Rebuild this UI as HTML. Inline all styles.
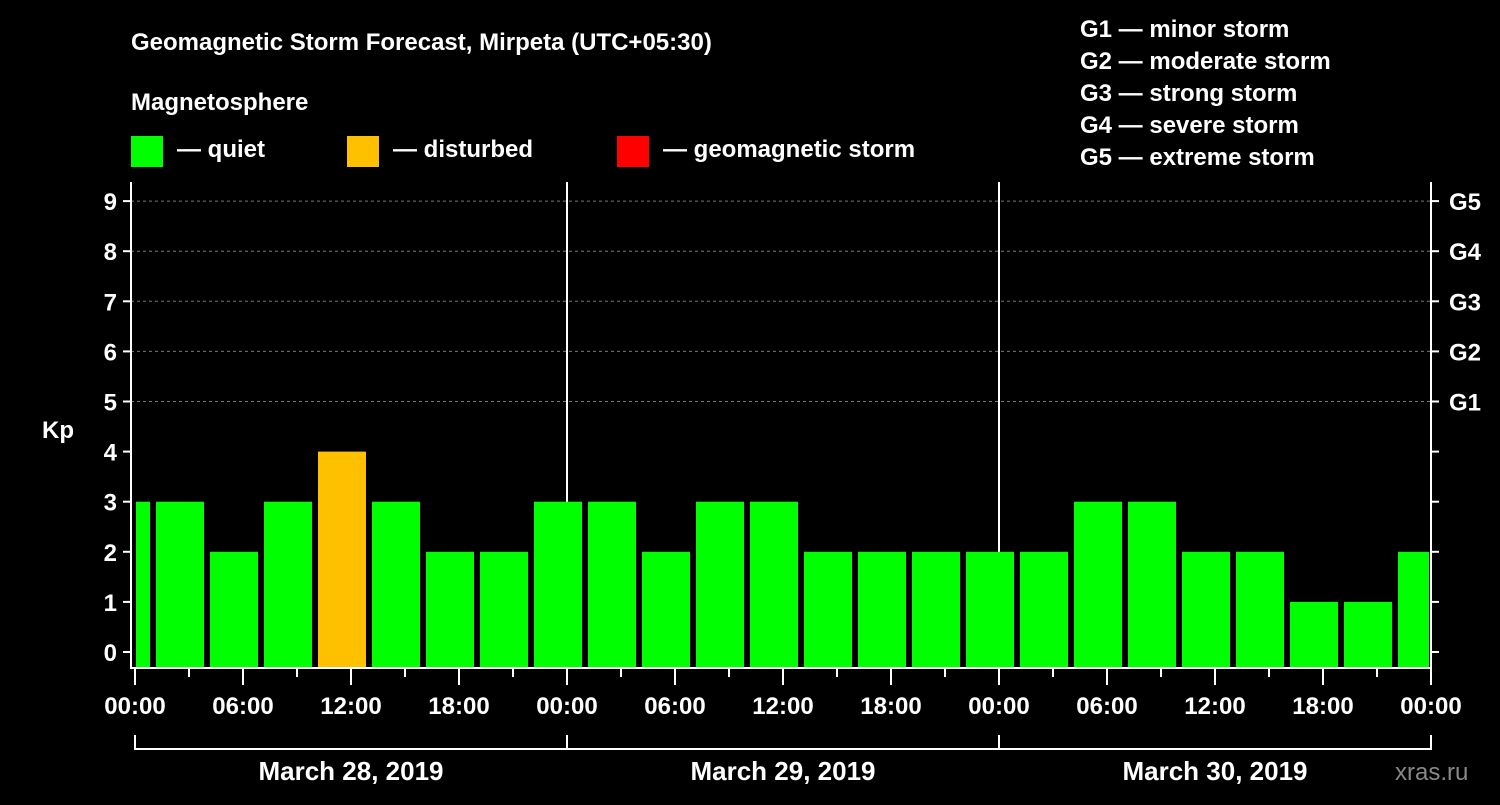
<!DOCTYPE html>
<html><head><meta charset="utf-8">
<style>
body{margin:0;background:#000;width:1500px;height:800px;overflow:hidden}
svg text{font-family:"Liberation Sans",Arial,sans-serif;font-weight:bold;fill:#fff}
</style></head>
<body>
<svg id="chart" width="1500" height="800" xmlns="http://www.w3.org/2000/svg">
<rect width="1500" height="800" fill="#000"/>
<text x="131" y="50" font-size="24">Geomagnetic Storm Forecast, Mirpeta (UTC+05:30)</text>
<text x="131" y="110" font-size="24">Magnetosphere</text>
<g><rect x="131" y="136" width="32" height="31" fill="#00ff00"/><text x="177" y="157" font-size="24">— quiet</text></g>
<g><rect x="347" y="136" width="32" height="31" fill="#ffc000"/><text x="393" y="157" font-size="24">— disturbed</text></g>
<g><rect x="617" y="136" width="32" height="31" fill="#ff0000"/><text x="663" y="157" font-size="24">— geomagnetic storm</text></g>
<g font-size="24">
<text x="1080" y="37">G1 — minor storm</text>
<text x="1080" y="69">G2 — moderate storm</text>
<text x="1080" y="101">G3 — strong storm</text>
<text x="1080" y="133">G4 — severe storm</text>
<text x="1080" y="165">G5 — extreme storm</text>
</g>
<text x="42" y="438" font-size="24">Kp</text>
<text x="1395" y="780" font-size="24" fill="#888" style="fill:#888;font-weight:normal">xras.ru</text>
<g id="grid"></g><g id="bars"></g><g id="axes"></g>
</svg>
<script>
const kpValues=[3,3,2,3,4,3,2,2,3,3,2,3,3,2,2,2,2,2,3,3,2,2,1,1,2];
const yTicks=[0,1,2,3,4,5,6,7,8,9];
const gLabels=["G1","G2","G3","G4","G5"];
const hourLabels=["00:00","06:00","12:00","18:00"];
const dayLabels=["March 28, 2019","March 29, 2019","March 30, 2019"];
const NS="http://www.w3.org/2000/svg";
const X0=135,DAY=432,PL=131,PR=1431,PT=182,PB=668;
const x=h=>X0+h*DAY/24;
const y=v=>652-v*50.1;
function mk(t,a,p){const e=document.createElementNS(NS,t);for(const k in a)e.setAttribute(k,a[k]);p.appendChild(e);return e;}
const grid=document.getElementById('grid'),bars=document.getElementById('bars'),axes=document.getElementById('axes');
yTicks.forEach(v=>{
 if(v>=5){const l=mk('line',{x1:PL,x2:PR,y1:y(v),y2:y(v),stroke:'#777','stroke-dasharray':'3,3','stroke-width':1},grid);
 
 }
 const t=mk('line',{x1:PL-8,x2:PL,y1:y(v),y2:y(v),stroke:'#fff','stroke-width':2},axes);
 
 
 const tr=mk('line',{x1:PR,x2:PR+8,y1:y(v),y2:y(v),stroke:'#fff','stroke-width':2},axes);
 
 
 const lb=mk('text',{x:PL-14,y:y(v)+9,'font-size':24,'text-anchor':'end'},axes);lb.textContent=v;
 
 
});
gLabels.forEach((g,i)=>{const lb=mk('text',{x:1449,y:y(5+i)+9,'font-size':24},axes);lb.textContent=g;
 
 });
kpValues.forEach((v,i)=>{
 let l=x(i*3-2)+3,r=l+48;l=Math.max(l,X0+1);r=Math.min(r,PR-2);
 const col=v>=5?'#ff0000':v>=4?'#ffc000':'#00ff00';
 const b=mk('rect',{x:l,y:y(v),width:r-l,height:PB-y(v),fill:col},bars);
 
 
});
[1,2].forEach(d=>{const l=mk('line',{x1:x(24*d),x2:x(24*d),y1:PT,y2:PB,stroke:'#fff','stroke-width':2},grid);
 
 });
const fr=mk('path',{d:`M${PL} ${PT}V${PB}H${PR}V${PT}`,stroke:'#fff','stroke-width':2,fill:'none'},axes);


for(let h=0;h<=72;h+=3){
 const t=mk('line',{x1:x(h),x2:x(h),y1:PB,y2:PB+(h%6==0?17:9),stroke:'#fff','stroke-width':2},axes);
 
 
 if(h%6==0){const lb=mk('text',{x:x(h),y:714,'font-size':24,'text-anchor':'middle'},axes);lb.textContent=hourLabels[(h/6)%4];
 
 }
}
const br=mk('path',{d:`M${x(0)} 735V749H${x(72)}V735M${x(24)} 735V749M${x(48)} 735V749`,stroke:'#fff','stroke-width':2,fill:'none'},axes);


dayLabels.forEach((d,i)=>{const lb=mk('text',{x:x(24*i+12),y:780,'font-size':26,'text-anchor':'middle'},axes);lb.textContent=d;
 
 });
</script>
</body></html>
